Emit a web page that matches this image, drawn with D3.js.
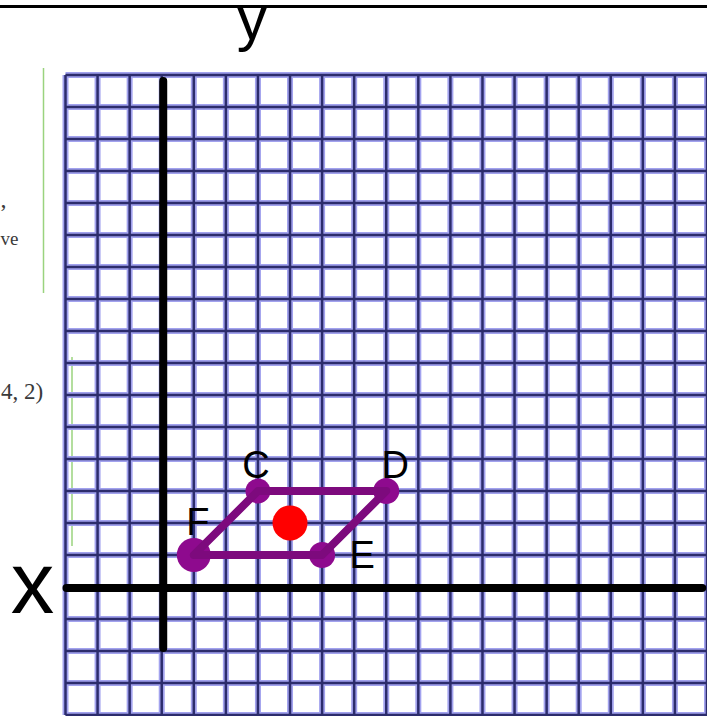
<!DOCTYPE html>
<html>
<head>
<meta charset="utf-8">
<script src="https://cdn.jsdelivr.net/npm/d3@7"></script>
<style>
  html, body { margin: 0; padding: 0; background: #fff; }
  svg { display: block; }
</style>
</head>
<body>
<svg id="chart" width="707" height="716"></svg>
<script>
// ---- data ----
const gridXValues = [-3, -2, -1, 0, 1, 2, 3, 4, 5, 6, 7, 8, 9, 10, 11, 12, 13, 14, 15, 16, 17];
const gridYValues = [-4, -3, -2, -1, 0, 1, 2, 3, 4, 5, 6, 7, 8, 9, 10, 11, 12, 13, 14, 15, 16];
const pointNames = ["F", "C", "D", "E"];
const pointX = [1, 3, 7, 5];
const pointY = [1, 3, 3, 1];
const centerX = [4];
const centerY = [2];
const axisNames = ["x", "y"];

// ---- drawing ----
const svg = d3.select("#chart");
const x = d3.scaleLinear().domain([-3, 17]).range([65.5, 707]);
const y = d3.scaleLinear().domain([-4, 16]).range([715, 75]);

// top rule
svg.append("line").attr("x1", 0).attr("x2", 707).attr("y1", 6.5).attr("y2", 6.5)
  .attr("stroke", "#000").attr("stroke-width", 3);

// background page fragments
svg.append("line").attr("x1", 43.5).attr("x2", 43.5).attr("y1", 68).attr("y2", 293)
  .attr("stroke", "#9ad37e").attr("stroke-width", 1.5);
svg.append("line").attr("x1", 72).attr("x2", 72).attr("y1", 357).attr("y2", 546)
  .attr("stroke", "#9ad37e").attr("stroke-width", 1.5);
const bgText = [
  {t: ",", x: 0.5, y: 207, s: 24},
  {t: "ve", x: 0.5, y: 245, s: 19},
  {t: "4, 2)", x: 1, y: 399, s: 23}
];
svg.selectAll("text.bg").data(bgText).join("text").attr("class", "bg")
  .attr("x", d => d.x).attr("y", d => d.y).attr("text-anchor", "start")
  .attr("font-family", "'Liberation Serif', 'DejaVu Serif', serif")
  .attr("font-size", d => d.s).attr("fill", "#3a3a3a").text(d => d.t);

// grid: halo + core
const grid = svg.append("g");
function gridLines(stroke, width) {
  grid.selectAll(null).data(gridXValues).join("line")
    .attr("x1", d => x(d)).attr("x2", d => x(d))
    .attr("y1", y(16)).attr("y2", y(-4))
    .attr("stroke", stroke).attr("stroke-width", width);
  grid.selectAll(null).data(gridYValues).join("line")
    .attr("y1", d => y(d)).attr("y2", d => y(d))
    .attr("x1", x(-3)).attr("x2", x(17))
    .attr("stroke", stroke).attr("stroke-width", width);
}
gridLines("#a2a2ee", 6);
gridLines("#2c2c6c", 2.5);

// axes
svg.append("line").attr("x1", x(0) + 1.5).attr("x2", x(0) + 1.5)
  .attr("y1", y(16) + 6).attr("y2", y(-2) - 3)
  .attr("stroke", "#000").attr("stroke-width", 8).attr("stroke-linecap", "round");
svg.append("line").attr("x1", x(-3) + 1).attr("x2", x(16.85))
  .attr("y1", y(0) + 1).attr("y2", y(0) + 1)
  .attr("stroke", "#000").attr("stroke-width", 8).attr("stroke-linecap", "round");

// axis labels
svg.append("text").attr("x", 252).attr("y", 39).attr("text-anchor", "middle")
  .attr("font-family", "'Liberation Sans', Arial, sans-serif").attr("font-size", 61)
  .text(axisNames[1]);
svg.append("text").attr("x", 32.5).attr("y", 613).attr("text-anchor", "middle")
  .attr("font-family", "'Liberation Sans', Arial, sans-serif").attr("font-size", 87)
  .text(axisNames[0]);

// points
const pts = pointNames.map((n, i) => ({name: n, x: pointX[i], y: pointY[i]}));
const radius = {F: 17, C: 12.5, D: 13, E: 13};
svg.selectAll("circle.pt").data(pts).join("circle").attr("class", "pt")
  .attr("cx", d => x(d.x)).attr("cy", d => y(d.y)).attr("r", d => radius[d.name])
  .attr("fill", "#8e0a8e");

// polygon edges
svg.append("path")
  .attr("d", d3.line().x(d => x(d.x)).y(d => y(d.y)).curve(d3.curveLinearClosed)(pts))
  .attr("fill", "none").attr("stroke", "#7d0a7d").attr("stroke-width", 8)
  .attr("stroke-linejoin", "round");

// centre point
svg.selectAll("circle.ctr").data(centerX.map((v, i) => ({x: v, y: centerY[i]})))
  .join("circle").attr("class", "ctr")
  .attr("cx", d => x(d.x)).attr("cy", d => y(d.y)).attr("r", 17.5).attr("fill", "#ff0000");

// labels
const labelOffset = {F: [4, -20], C: [-2, -13], D: [9, -13], E: [40, 13]};
svg.selectAll("text.lbl").data(pts).join("text").attr("class", "lbl")
  .attr("x", d => x(d.x) + labelOffset[d.name][0])
  .attr("y", d => y(d.y) + labelOffset[d.name][1])
  .attr("text-anchor", "middle")
  .attr("font-family", "'Liberation Sans', Arial, sans-serif").attr("font-size", 38)
  .attr("fill", "#000").text(d => d.name);
</script>
</body>
</html>
